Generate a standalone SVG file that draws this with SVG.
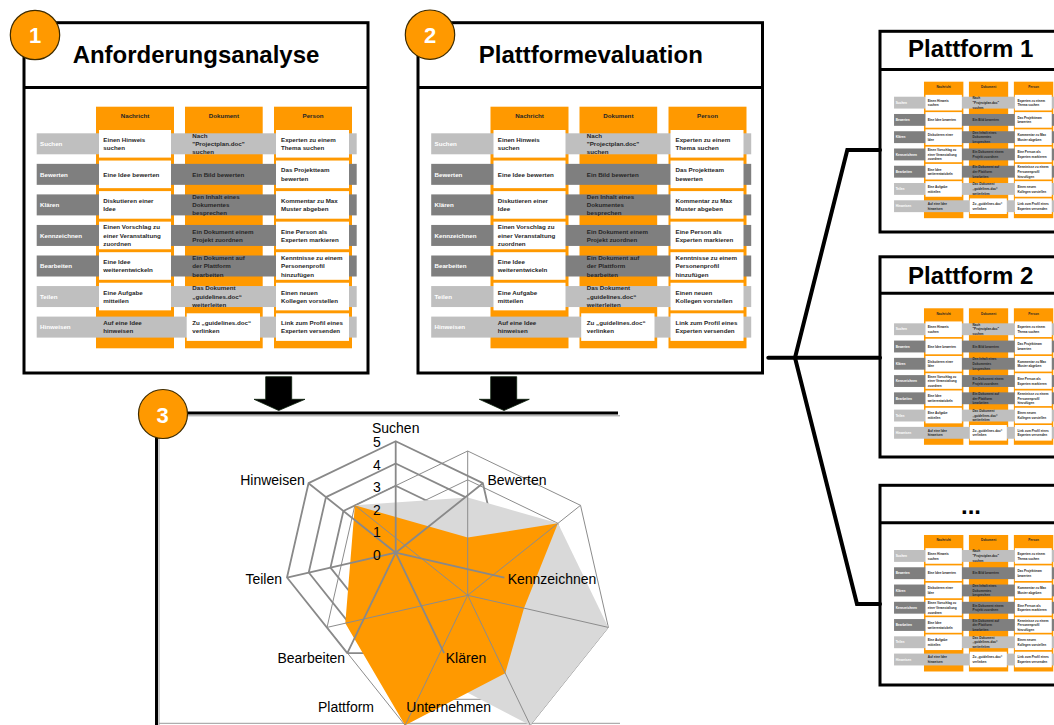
<svg xmlns="http://www.w3.org/2000/svg" xmlns:xlink="http://www.w3.org/1999/xlink" width="1054" height="725" viewBox="0 0 1054 725">
<style>
.box{fill:none;stroke:#000;stroke-width:3}
.ttl{font-family:"Liberation Sans",Arial,sans-serif;font-weight:bold;font-size:24px;fill:#000;text-anchor:middle}
.num{font-family:"Liberation Sans",Arial,sans-serif;font-weight:bold;font-size:22px;fill:#fff;text-anchor:middle}
.badge{fill:#FF9900;stroke:#3d2b00;stroke-width:1.2}
.org{fill:#FF9900}
.lb{fill:#BFBFBF}
.db{fill:#7F7F7F}
.wc{fill:#fff}
.t{font-family:"Liberation Sans",Arial,sans-serif;font-weight:bold;font-size:6.2px;fill:#262626}
.h{text-anchor:middle}
.rl{fill:#fff}
.r1{fill:none;stroke:#898989;stroke-width:1.8;stroke-linejoin:round}
.r2{fill:none;stroke:#8c8c8c;stroke-width:1;stroke-linejoin:round}
.cl{font-family:"Liberation Sans",Arial,sans-serif;font-size:14px;fill:#000;text-anchor:middle}
.conn{fill:none;stroke:#000;stroke-width:4;stroke-linejoin:miter;stroke-linecap:round}
.arr{fill:#000;stroke:#0b1f0b;stroke-width:0.8}
</style>
<rect x="0" y="0" width="1054" height="725" fill="#fff"/>

<g id="node1">
  <rect class="box" x="24" y="22.7" width="344" height="350.3"/>
  <line x1="24" y1="87.5" x2="368" y2="87.5" stroke="#000" stroke-width="3"/>
  <text class="ttl" x="196" y="63.3">Anforderungsanalyse</text>
  <g id="tbl">
    <rect class="org" x="96" y="106.7" width="78" height="241.6"/>
    <rect class="org" x="185" y="106.7" width="77.7" height="241.6"/>
    <rect class="org" x="274" y="106.7" width="78" height="241.6"/>
    <rect class="lb" x="36.7" y="133.3" width="320" height="21"/>
    <rect class="db" x="36.7" y="163.85" width="320" height="21"/>
    <rect class="db" x="36.7" y="194.4" width="320" height="21"/>
    <rect class="db" x="36.7" y="224.95" width="320" height="21"/>
    <rect class="db" x="36.7" y="255.5" width="320" height="21"/>
    <rect class="lb" x="36.7" y="286.05" width="320" height="21"/>
    <rect class="lb" x="36.7" y="316.6" width="320" height="21"/>
    <rect class="wc" x="99" y="130" width="72" height="27.6"/>
    <rect class="wc" x="99" y="160.55" width="72" height="27.6"/>
    <rect class="wc" x="99" y="191.1" width="72" height="27.6"/>
    <rect class="wc" x="99" y="221.65" width="72" height="27.6"/>
    <rect class="wc" x="99" y="252.2" width="72" height="27.6"/>
    <rect class="wc" x="99" y="282.75" width="72" height="27.6"/>
    <rect class="wc" x="276" y="130" width="73" height="27.6"/>
    <rect class="wc" x="276" y="160.55" width="73" height="27.6"/>
    <rect class="wc" x="276" y="191.1" width="73" height="27.6"/>
    <rect class="wc" x="276" y="221.65" width="73" height="27.6"/>
    <rect class="wc" x="276" y="252.2" width="73" height="27.6"/>
    <rect class="wc" x="276" y="282.75" width="73" height="27.6"/>
    <rect class="wc" x="276" y="313.3" width="73" height="27.6"/>
    <rect class="wc" x="186.7" y="313.3" width="73.3" height="27.6"/>
    <text class="t h" x="135" y="118">Nachricht</text>
    <text class="t h" x="223.85" y="118">Dokument</text>
    <text class="t h" x="313" y="118">Person</text>
    <text class="t rl" x="40" y="146">Suchen</text>
    <text class="t rl" x="40" y="176.55">Bewerten</text>
    <text class="t rl" x="40" y="207.1">Klären</text>
    <text class="t rl" x="40" y="237.65">Kennzeichnen</text>
    <text class="t rl" x="40" y="268.2">Bearbeiten</text>
    <text class="t rl" x="40" y="298.75">Teilen</text>
    <text class="t rl" x="40" y="329.3">Hinweisen</text>
    <text class="t" x="103.3" y="141.85">Einen Hinweis<tspan x="103.3" dy="8.3">suchen</tspan></text>
    <text class="t" x="192.3" y="137.7">Nach<tspan x="192.3" dy="8.3">"Projectplan.doc"</tspan><tspan x="192.3" dy="8.3">suchen</tspan></text>
    <text class="t" x="281" y="141.85">Experten zu einem<tspan x="281" dy="8.3">Thema suchen</tspan></text>
    <text class="t" x="103.3" y="176.55">Eine Idee bewerten</text>
    <text class="t" x="192.3" y="176.55">Ein Bild bewerten</text>
    <text class="t" x="281" y="172.4">Das Projektteam<tspan x="281" dy="8.3">bewerten</tspan></text>
    <text class="t" x="103.3" y="202.95">Diskutieren einer<tspan x="103.3" dy="8.3">Idee</tspan></text>
    <text class="t" x="192.3" y="198.8">Den Inhalt eines<tspan x="192.3" dy="8.3">Dokumentes</tspan><tspan x="192.3" dy="8.3">besprechen</tspan></text>
    <text class="t" x="281" y="202.95">Kommentar zu Max<tspan x="281" dy="8.3">Muster abgeben</tspan></text>
    <text class="t" x="103.3" y="229.35">Einen Vorschlag zu<tspan x="103.3" dy="8.3">einer Veranstaltung</tspan><tspan x="103.3" dy="8.3">zuordnen</tspan></text>
    <text class="t" x="192.3" y="233.5">Ein Dokument einem<tspan x="192.3" dy="8.3">Projekt zuordnen</tspan></text>
    <text class="t" x="281" y="233.5">Eine Person als<tspan x="281" dy="8.3">Experten markieren</tspan></text>
    <text class="t" x="103.3" y="264.05">Eine Idee<tspan x="103.3" dy="8.3">weiterentwickeln</tspan></text>
    <text class="t" x="192.3" y="259.9">Ein Dokument auf<tspan x="192.3" dy="8.3">der Plattform</tspan><tspan x="192.3" dy="8.3">bearbeiten</tspan></text>
    <text class="t" x="281" y="259.9">Kenntnisse zu einem<tspan x="281" dy="8.3">Personenprofil</tspan><tspan x="281" dy="8.3">hinzufügen</tspan></text>
    <text class="t" x="103.3" y="294.6">Eine Aufgabe<tspan x="103.3" dy="8.3">mitteilen</tspan></text>
    <text class="t" x="192.3" y="290.45">Das Dokument<tspan x="192.3" dy="8.3">„guidelines.doc“</tspan><tspan x="192.3" dy="8.3">weiterleiten</tspan></text>
    <text class="t" x="281" y="294.6">Einen neuen<tspan x="281" dy="8.3">Kollegen vorstellen</tspan></text>
    <text class="t" x="103.3" y="325.15">Auf eine Idee<tspan x="103.3" dy="8.3">hinweisen</tspan></text>
    <text class="t" x="192.3" y="325.15">Zu „guidelines.doc“<tspan x="192.3" dy="8.3">verlinken</tspan></text>
    <text class="t" x="281" y="325.15">Link zum Profil eines<tspan x="281" dy="8.3">Experten versenden</tspan></text>
  </g>
  <circle class="badge" cx="35" cy="35" r="24.7"/>
  <text class="num" x="35" y="42.7">1</text>
</g>

<g id="node2">
  <rect class="box" x="418" y="22.7" width="344.5" height="350.3"/>
  <line x1="418" y1="87.5" x2="762.5" y2="87.5" stroke="#000" stroke-width="3"/>
  <text class="ttl" x="590.8" y="63.3">Plattformevaluation</text>
  <use xlink:href="#tbl" href="#tbl" transform="translate(394.5,0)"/>
  <circle class="badge" cx="430" cy="34.7" r="24.7"/>
  <text class="num" x="430" y="42.7">2</text>
</g>

<g id="node3">
  <path d="M159,740 V415.8 H620 M159,723.3 H620" fill="none" stroke="#9a9a9a" stroke-width="1"/>
  <path d="M156.5,740 V413 H618" fill="none" stroke="#000" stroke-width="3"/>
  <g id="radar">
    <polygon class="r1" points="395.7,441.2 482.87,483.18 504.4,577.51 444.08,653.16 347.32,653.16 287,577.51 308.53,483.18"/>
    <polygon class="r1" points="395.7,463.5 465.44,497.08 482.66,572.55 434.4,633.07 357,633.07 308.74,572.55 325.96,497.08"/>
    <polygon class="r1" points="395.7,485.8 448,510.99 460.92,567.59 424.73,612.97 366.67,612.97 330.48,567.59 343.4,510.99"/>
    <polygon class="r1" points="395.7,508.1 430.57,524.89 439.18,562.62 415.05,592.88 376.35,592.88 352.22,562.62 360.83,524.89"/>
    <polygon class="r1" points="395.7,530.4 413.13,538.8 417.44,557.66 405.38,572.79 386.02,572.79 373.96,557.66 378.27,538.8"/>
    <polygon class="r2" points="467.7,451 580.52,505.33 608.38,627.41 530.31,725.31 405.09,725.31 327.02,627.41 354.88,505.33"/>
    <polygon class="r2" points="467.7,479.86 557.95,523.32 580.25,620.99 517.79,699.31 417.61,699.31 355.15,620.99 377.45,523.32"/>
    <polygon class="r2" points="467.7,508.72 535.39,541.32 552.11,614.57 505.27,673.31 430.13,673.31 383.29,614.57 400.01,541.32"/>
    <polygon class="r2" points="467.7,537.58 512.83,559.31 523.97,608.14 492.74,647.3 442.66,647.3 411.43,608.14 422.57,559.31"/>
    <polygon class="r2" points="467.7,566.44 490.26,577.31 495.84,601.72 480.22,621.3 455.18,621.3 439.56,601.72 445.14,577.31"/>
    <polygon fill="#D9D9D9" points="467.7,497.46 557.95,523.32 608.38,627.41 530.31,725.31 430.13,673.31 383.29,614.57 354.88,505.33"/>
    <polygon fill="#FF9900" points="467.7,537.58 557.95,523.32 523.97,608.14 505.27,673.31 405.09,725.31 345.31,623.23 354.88,505.33"/>
    <path class="r2" d="M467.7,595.3 L467.7,451 M467.7,595.3 L580.52,505.33 M467.7,595.3 L608.38,627.41 M467.7,595.3 L530.31,725.31 M467.7,595.3 L405.09,725.31 M467.7,595.3 L327.02,627.41 M467.7,595.3 L354.88,505.33"/>
    <path class="r1" d="M395.7,552.7 L395.7,441.2 M395.7,552.7 L482.87,483.18 M395.7,552.7 L504.4,577.51 M395.7,552.7 L444.08,653.16 M395.7,552.7 L347.32,653.16 M395.7,552.7 L287,577.51 M395.7,552.7 L308.53,483.18"/>
    <text class="cl" x="377" y="447">5</text>
    <text class="cl" x="377" y="469.5">4</text>
    <text class="cl" x="377" y="492">3</text>
    <text class="cl" x="377" y="514.5">2</text>
    <text class="cl" x="377" y="537">1</text>
    <text class="cl" x="377" y="559.5">0</text>
    <text class="cl" x="395.7" y="432.7">Suchen</text>
    <text class="cl" x="517" y="485">Bewerten</text>
    <text class="cl" x="552" y="584">Kennzeichnen</text>
    <text class="cl" x="466" y="663.3">Klären</text>
    <text class="cl" x="311.3" y="663.3">Bearbeiten</text>
    <text class="cl" x="263.7" y="584">Teilen</text>
    <text class="cl" x="272.5" y="485">Hinweisen</text>
    <text class="cl" x="346" y="712.3">Plattform</text>
    <text class="cl" x="448.7" y="712.3">Unternehmen</text>
  </g>
  <circle class="badge" cx="163" cy="414" r="24.5"/>
  <text class="num" x="162.7" y="422.5">3</text>
</g>

<g id="plattform1">
  <rect class="box" x="880" y="31.3" width="190" height="200.7"/>
  <line x1="880" y1="69.5" x2="1070" y2="69.5" stroke="#000" stroke-width="3"/>
  <text class="ttl" x="970.8" y="57.3">Plattform 1</text>
  <use xlink:href="#tbl" href="#tbl" transform="translate(875.5,21.4) scale(0.505,0.565)"/>
</g>

<g id="plattform2">
  <rect class="box" x="880" y="256.8" width="190" height="200.2"/>
  <line x1="880" y1="293.3" x2="1070" y2="293.3" stroke="#000" stroke-width="3"/>
  <text class="ttl" x="970.8" y="284">Plattform 2</text>
  <use xlink:href="#tbl" href="#tbl" transform="translate(875.5,248) scale(0.505,0.565)"/>
</g>

<g id="plattformN">
  <rect class="box" x="880" y="485.3" width="190" height="199.7"/>
  <line x1="880" y1="522.8" x2="1070" y2="522.8" stroke="#000" stroke-width="3"/>
  <text class="ttl" x="971" y="513.5">...</text>
  <use xlink:href="#tbl" href="#tbl" transform="translate(875.5,474.7) scale(0.505,0.565)"/>
</g>

<g id="connectors">
  <polygon class="arr" points="265.7,376.7 291.7,376.7 291.7,399.3 305,399.3 278.7,410.5 254,399.3 265.7,399.3"/>
  <polygon class="arr" points="490.7,376.7 516.7,376.7 516.7,399.3 529.3,399.3 504,410.5 479.3,399.3 490.7,399.3"/>
  <path class="conn" d="M768.3,357.7 H880"/>
  <path class="conn" d="M795,357.7 L847.3,150 H880"/>
  <path class="conn" d="M795,357.7 L857,604 H880"/>
</g>
</svg>
